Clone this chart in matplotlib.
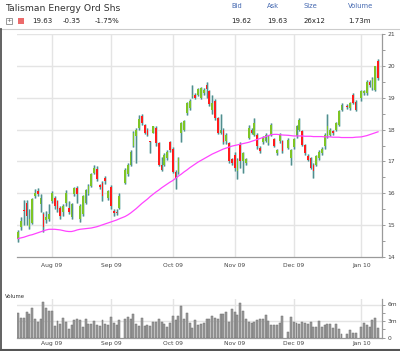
import numpy as np
import pandas as pd
import matplotlib
matplotlib.use("Agg")
import matplotlib.pyplot as plt
from matplotlib.patches import Rectangle
from matplotlib.lines import Line2D
from matplotlib.ticker import FixedLocator, NullFormatter

# ---------------- data ----------------
title = "Talisman Energy Ord Shs"
start_date = "2009-07-16"
end_date = "2010-01-12"
holidays = ["2009-09-07", "2009-11-26", "2009-12-25", "2010-01-01"]
month_labels = ["Aug 09", "Sep 09", "Oct 09", "Nov 09", "Dec 09", "Jan 10"]

opens = [
    14.56, 14.93, 15.48, 15.71, 14.93, 15.08, 15.92, 16.07, 15.66, 15.36, 15.15, 15.19,
    15.76, 15.86, 15.76, 15.55, 15.40, 15.71, 15.55, 15.24, 15.97, 16.17, 15.20, 15.34, 15.70, 15.98, 16.23, 16.65, 16.75, 16.25, 16.33, 16.49, 15.85,
    16.20, 15.45, 15.42, 15.55, 16.33, 16.60, 16.90, 17.50, 17.80, 18.05, 18.44, 18.13, 18.00, 17.62, 17.90, 18.05, 17.58, 16.90, 16.90, 17.10, 17.60,
    17.40, 16.68, 16.68, 17.90, 18.00, 18.52, 18.68, 19.05, 19.10, 19.10, 19.00, 19.15, 19.40, 19.20, 18.62, 18.90, 18.36, 17.90, 18.00, 17.63, 17.58, 17.08,
    17.20, 16.70, 17.53, 17.00, 16.96, 17.74, 18.00, 17.84, 17.84, 17.43, 17.60, 17.63, 17.58, 17.84, 17.69, 17.27, 17.63, 17.63, 17.42, 17.10,
    17.45, 17.80, 18.00, 17.94, 17.52, 17.18, 17.10, 16.90, 16.90, 17.10, 17.26, 17.47, 17.80, 17.84, 17.95, 18.00, 18.15, 18.62, 18.75, 18.67, 19.10, 18.88,
    18.99, 19.15, 19.14, 19.50, 19.30, 19.25, 20.14,
]
highs = [
    14.85, 15.25, 15.78, 15.80, 15.50, 15.86, 16.12, 16.17, 15.97, 15.42, 15.45, 15.66,
    16.07, 15.92, 15.80, 15.60, 15.66, 16.10, 15.75, 15.70, 16.20, 16.22, 15.65, 15.95, 16.15, 16.30, 16.65, 16.90, 16.85, 16.30, 16.40, 16.55, 16.10,
    16.25, 15.50, 15.50, 16.00, 16.78, 16.95, 17.35, 17.95, 18.05, 18.45, 18.50, 18.18, 18.05, 17.65, 18.12, 18.10, 17.60, 17.15, 17.25, 17.35, 17.65,
    17.45, 16.72, 17.15, 18.25, 18.30, 18.88, 18.95, 19.40, 19.15, 19.30, 19.35, 19.30, 19.50, 19.25, 19.10, 18.95, 18.40, 18.50, 18.05, 17.90, 17.62, 17.12,
    17.30, 17.10, 17.60, 17.30, 17.12, 18.15, 18.05, 18.35, 17.90, 17.48, 17.80, 17.88, 17.82, 18.20, 17.72, 17.40, 17.88, 17.66, 17.72, 17.40,
    17.75, 18.15, 18.35, 17.98, 17.56, 17.22, 17.14, 16.95, 17.20, 17.35, 17.45, 17.88, 18.50, 18.05, 18.00, 18.25, 18.60, 18.82, 18.80, 18.88, 19.15, 18.92,
    19.25, 19.25, 19.55, 19.55, 19.65, 20.00, 20.22,
]
lows = [
    14.48, 14.85, 15.00, 15.00, 14.88, 15.05, 15.85, 15.90, 15.40, 14.78, 15.08, 15.12,
    15.70, 15.50, 15.40, 15.20, 15.30, 15.60, 15.35, 15.20, 15.90, 15.70, 15.10, 15.30, 15.65, 15.95, 16.20, 16.60, 16.40, 16.15, 15.76, 16.30, 15.80,
    15.50, 15.30, 15.33, 15.50, 16.28, 16.55, 16.85, 17.45, 16.95, 18.00, 18.15, 17.85, 17.80, 17.25, 17.88, 17.50, 16.85, 16.70, 16.85, 17.05, 17.30,
    16.65, 16.15, 16.60, 17.60, 17.95, 18.45, 18.60, 19.00, 18.95, 19.05, 18.95, 19.10, 19.00, 18.75, 18.50, 18.30, 17.85, 17.85, 17.55, 17.55, 16.95, 16.90,
    16.70, 16.46, 16.80, 16.65, 16.90, 17.70, 17.85, 17.80, 17.40, 17.28, 17.55, 17.60, 17.52, 17.80, 17.45, 17.20, 17.58, 17.28, 17.38, 16.88,
    17.40, 17.75, 17.95, 17.48, 17.20, 17.00, 16.75, 16.48, 16.85, 17.05, 17.20, 17.40, 17.75, 17.80, 17.82, 17.95, 18.10, 18.58, 18.65, 18.60, 18.80, 18.58,
    18.90, 19.10, 19.10, 19.35, 19.25, 19.20, 19.55,
]
closes = [
    14.77, 15.14, 15.43, 15.29, 15.19, 15.81, 16.02, 15.97, 15.86, 14.93, 15.25, 15.34,
    16.02, 15.60, 15.50, 15.29, 15.60, 16.02, 15.40, 15.66, 16.17, 15.97, 15.60, 15.92, 16.10, 16.23, 16.60, 16.80, 16.44, 16.20, 15.90, 16.38, 16.07,
    15.60, 15.38, 15.37, 15.90, 16.73, 16.90, 17.30, 17.90, 18.00, 18.34, 18.20, 17.90, 17.84, 17.60, 18.10, 17.58, 16.90, 16.74, 17.20, 17.30, 17.37,
    16.68, 16.47, 17.10, 18.20, 18.26, 18.84, 18.90, 19.10, 19.00, 19.26, 19.30, 19.25, 19.28, 18.80, 18.83, 18.36, 17.90, 18.00, 17.60, 17.84, 17.00, 16.96,
    16.80, 17.06, 17.00, 17.27, 17.08, 18.05, 17.90, 18.20, 17.48, 17.33, 17.76, 17.84, 17.79, 18.15, 17.48, 17.37, 17.84, 17.32, 17.68, 17.37,
    17.70, 18.10, 18.30, 17.52, 17.26, 17.05, 16.80, 16.70, 17.16, 17.30, 17.40, 17.84, 18.10, 18.00, 17.88, 18.20, 18.57, 18.78, 18.70, 18.83, 18.83, 18.62,
    19.20, 19.20, 19.50, 19.40, 19.60, 19.98, 19.63,
]
ma50 = [
    14.58, 14.60, 14.62, 14.65, 14.68, 14.70, 14.73, 14.76, 14.79, 14.82, 14.85, 14.87,
    14.87, 14.87, 14.86, 14.85, 14.83, 14.81, 14.80, 14.80, 14.82, 14.85, 14.87, 14.88, 14.89, 14.90, 14.91, 14.93, 14.95, 14.98, 15.01, 15.04, 15.07,
    15.10, 15.13, 15.16, 15.20, 15.27, 15.32, 15.38, 15.45, 15.52, 15.60, 15.68, 15.75, 15.82, 15.90, 15.97, 16.04, 16.10, 16.17, 16.23, 16.29, 16.35,
    16.40, 16.47, 16.54, 16.60, 16.67, 16.73, 16.80, 16.86, 16.92, 16.98, 17.03, 17.08, 17.13, 17.18, 17.23, 17.27, 17.31, 17.35, 17.39, 17.42, 17.45, 17.48,
    17.50, 17.52, 17.54, 17.56, 17.58, 17.60, 17.63, 17.66, 17.69, 17.72, 17.75, 17.78, 17.81, 17.84, 17.85, 17.85, 17.84, 17.83, 17.82, 17.81,
    17.80, 17.80, 17.80, 17.80, 17.79, 17.79, 17.79, 17.78, 17.78, 17.78, 17.78, 17.77, 17.77, 17.77, 17.76, 17.76, 17.76, 17.75, 17.75, 17.75, 17.75, 17.76,
    17.77, 17.79, 17.81, 17.84, 17.87, 17.90, 17.93,
]
volumes_m = [
    4.4, 3.6, 3.6, 4.7, 4.3, 5.4, 3.3, 2.8, 3.4, 6.5, 5.4, 4.8,
    4.8, 2.05, 3.0, 2.45, 3.6, 2.8, 1.6, 2.2, 3.1, 3.3, 3.2, 1.95, 3.3, 2.4, 2.4, 3.0, 2.2, 2.1, 3.1, 2.4, 2.3,
    3.8, 2.7, 2.2, 3.1, 3.3, 3.7, 3.3, 4.2, 2.4, 2.1, 3.6, 2.1, 2.3, 2.1, 2.8, 2.8, 3.3, 2.8, 2.4, 1.9, 2.6,
    4.0, 3.1, 4.0, 5.8, 3.4, 4.5, 2.6, 1.8, 3.1, 2.3, 2.5, 2.6, 3.4, 3.4, 3.9, 3.5, 3.3, 4.2, 4.2, 4.6, 2.9, 5.2,
    4.6, 4.1, 6.3, 4.9, 3.4, 2.9, 2.7, 2.8, 3.2, 3.3, 3.3, 4.1, 3.0, 2.3, 2.2, 2.2, 2.6, 4.0, 1.0, 3.8,
    2.8, 2.6, 2.5, 2.8, 2.6, 2.5, 2.8, 1.9, 1.9, 3.0, 2.0, 2.3, 2.5, 2.5, 1.7, 2.5, 1.5, 0.6, 0.7, 1.3, 0.9, 0.9,
    1.9, 2.7, 2.2, 2.0, 3.2, 3.6, 1.73,
]

header_row = ["19.63", "-0.35", "-1.75%"]
quote_labels = ["Bid", "Ask", "Size", "Volume"]
quote_values = ["19.62", "19.63", "26x12", "1.73m"]

price_ticks = [14, 15, 16, 17, 18, 19, 20, 21]
vol_ticks = [0, 3, 6]
vol_tick_labels = ["0", "3m", "6m"]

# ---------------- positions ----------------
slots = pd.bdate_range(start_date, end_date)
trade = slots[~slots.isin(pd.to_datetime(holidays))]
x = np.array([slots.get_loc(d) for d in trade], dtype=float)
s = pd.Series(x, index=trade)
month_first = s.groupby(trade.to_period("M")).first().values[1:]

o = np.array(opens); h = np.array(highs); l = np.array(lows); c = np.array(closes)

W, H = 400, 351
fig = plt.figure(figsize=(W / 100, H / 100), dpi=100)
plt.rcParams["font.family"] = ["DejaVu Sans"]

def fx(px):
    return px / W

def fy(py):
    return 1 - py / H

GRID = "#e4e4e4"
AXC = "#9a9a9a"
TXT = "#444444"

# main axes
ax = fig.add_axes([fx(17), fy(257), fx(382) - fx(17), fy(34) - fy(257)])
xl = (-0.4, len(slots) + 0.4)
ax.set_xlim(*xl)
ax.set_ylim(14, 21)
for sp in ["left", "top"]:
    ax.spines[sp].set_visible(False)
ax.spines["right"].set_color(AXC)
ax.spines["bottom"].set_color(AXC)
ax.spines["right"].set_linewidth(0.9)
ax.spines["bottom"].set_linewidth(0.9)
ax.yaxis.tick_right()
ax.yaxis.set_major_locator(FixedLocator(price_ticks))
ax.yaxis.set_minor_locator(FixedLocator(np.arange(14.5, 21, 1.0)))
ax.tick_params(axis="y", which="both", length=2.5, width=0.7, color=AXC,
               labelsize=4.3, labelcolor=TXT, pad=1.5)
ax.set_xticks(month_first)
ax.set_xticklabels(month_labels)
ax.tick_params(axis="x", length=0, labelsize=4.3, labelcolor=TXT, pad=4.5)
for v in price_ticks[1:]:
    ax.axhline(v, color=GRID, lw=1.0, zorder=0)
for mx in month_first:
    ax.axvline(mx, color=GRID, lw=1.0, zorder=0)

ax.vlines(x, l, h, color="#b3d3d3", lw=1.8, zorder=2)
ax.vlines(x, l, h, color="#4f8c8c", lw=0.7, zorder=3)
body_bottom = np.minimum(o, c)
body_h = np.maximum(np.abs(c - o), 0.04)
colors = np.where(c >= o, "#7ec425", "#ff1c1c")
ax.bar(x, body_h, bottom=body_bottom, width=0.62, color=colors, lw=0, zorder=4)
ax.plot(x, ma50, color="#ff44ff", lw=0.9, zorder=5)

# volume axes
axv = fig.add_axes([fx(17), fy(337.5), fx(382) - fx(17), fy(299) - fy(337.5)])
axv.set_xlim(*xl)
axv.set_ylim(0, 7.0)
for sp in ["left", "top"]:
    axv.spines[sp].set_visible(False)
axv.spines["right"].set_color(AXC)
axv.spines["bottom"].set_color(AXC)
axv.spines["right"].set_linewidth(0.9)
axv.spines["bottom"].set_linewidth(0.9)
axv.yaxis.tick_right()
axv.yaxis.set_major_locator(FixedLocator(vol_ticks))
axv.set_yticklabels(vol_tick_labels)
axv.yaxis.set_minor_locator(FixedLocator([1.5, 4.5]))
axv.tick_params(axis="y", which="both", length=2.5, width=0.7, color=AXC,
                labelsize=4.3, labelcolor=TXT, pad=1.5)
axv.set_xticks(month_first)
axv.set_xticklabels(month_labels)
axv.tick_params(axis="x", length=0, labelsize=4.3, labelcolor=TXT, pad=2.5)
for v in vol_ticks[1:]:
    axv.axhline(v, color=GRID, lw=1.0, zorder=0)
for mx in month_first:
    axv.axvline(mx, color=GRID, lw=1.0, zorder=0)
axv.bar(x, volumes_m, width=0.7, color="#9c9c9c", edgecolor="#6e6e6e", lw=0.35, zorder=3)
fig.text(fx(5), fy(296), "Volume", fontsize=3.9, color="#333333", va="center", ha="left")

# header
fig.text(fx(5), fy(8.5), title, fontsize=6.7, color="#333333", va="center", ha="left")
fig.add_artist(Rectangle((fx(6), fy(24)), fx(6), fy(18) - fy(24), transform=fig.transFigure,
                         facecolor="white", edgecolor="#888888", lw=0.6))
fig.text(fx(9), fy(21), "+", fontsize=4.5, color="#555555", va="center", ha="center")
fig.add_artist(Rectangle((fx(18), fy(24)), fx(6), fy(18) - fy(24), transform=fig.transFigure,
                         facecolor="#ec6b6b", edgecolor="none"))
for txt, px in zip(header_row, [32, 63, 95]):
    fig.text(fx(px), fy(21), txt, fontsize=5.0, color="#222222", va="center", ha="left")
for lab, val, px in zip(quote_labels, quote_values, [231, 267, 304, 348]):
    fig.text(fx(px), fy(6), lab, fontsize=4.9, color="#4468b0", va="center", ha="left")
    fig.text(fx(px), fy(21), val, fontsize=5.0, color="#222222", va="center", ha="left")
fig.add_artist(Line2D([0, 1], [fy(28.5), fy(28.5)], transform=fig.transFigure, color="#cccccc", lw=0.8))

# frame
fig.add_artist(Line2D([fx(0.8), fx(0.8)], [0, fy(29)], transform=fig.transFigure, color="#555555", lw=1.3))
fig.add_artist(Line2D([0, 1], [fy(349.6), fy(349.6)], transform=fig.transFigure, color="#555555", lw=1.5))

fig.savefig("out.png", dpi=100)
